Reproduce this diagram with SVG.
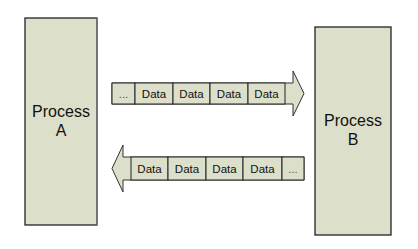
<svg xmlns="http://www.w3.org/2000/svg" width="418" height="249" viewBox="0 0 418 249">
<style>
.box{fill:#dcdfca;stroke:#222;stroke-width:1.3}
.cell{fill:#dcdfca;stroke:#222;stroke-width:1}
.arr{fill:#dcdfca;stroke:#333;stroke-width:1}
.t{font-family:"Liberation Sans",Arial,sans-serif;fill:#111;text-anchor:middle}
.big{font-size:16px}
.sm{font-size:11.5px}
.dots{fill:#555}
</style>
<rect width="418" height="249" fill="#fff"/>
<g id="processA">
<rect class="box" x="25" y="18" width="72" height="207"/>
<line x1="97" y1="18" x2="97" y2="225" stroke="#777" stroke-width="1.5"/>
<text class="t big" x="61" y="117">Process</text>
<text class="t big" x="61" y="136">A</text>
</g>
<g id="processB">
<rect class="box" x="315" y="27" width="76" height="208"/>
<text class="t big" x="353" y="126">Process</text>
<text class="t big" x="353" y="145">B</text>
</g>
<g id="connectors">
<g id="arrowAB">
<path class="arr" d="M112,83 H293 V71 L304,93.5 L293,116 V104 H112 Z"/>
<rect class="cell" x="112" y="83" width="23" height="21"/>
<rect class="cell" x="135" y="83" width="38" height="21"/>
<rect class="cell" x="173" y="83" width="37" height="21"/>
<rect class="cell" x="210" y="83" width="38" height="21"/>
<rect class="cell" x="248" y="83" width="37" height="21"/>
<text class="t sm dots" x="123.5" y="98">...</text>
<text class="t sm" x="154" y="98">Data</text>
<text class="t sm" x="191.5" y="98">Data</text>
<text class="t sm" x="229" y="98">Data</text>
<text class="t sm" x="266.5" y="98">Data</text>
</g>
<g id="arrowBA">
<path class="arr" d="M304,157 H123 V145 L112,168.5 L123,192 V180 H304 Z"/>
<rect class="cell" x="131" y="157" width="37" height="23"/>
<rect class="cell" x="168" y="157" width="38" height="23"/>
<rect class="cell" x="206" y="157" width="37" height="23"/>
<rect class="cell" x="243" y="157" width="39" height="23"/>
<rect class="cell" x="282" y="157" width="22" height="23"/>
<text class="t sm" x="149.5" y="172.5">Data</text>
<text class="t sm" x="187" y="172.5">Data</text>
<text class="t sm" x="224.5" y="172.5">Data</text>
<text class="t sm" x="262.5" y="172.5">Data</text>
<text class="t sm dots" x="293" y="172.5">...</text>
</g>
</g>
</svg>
